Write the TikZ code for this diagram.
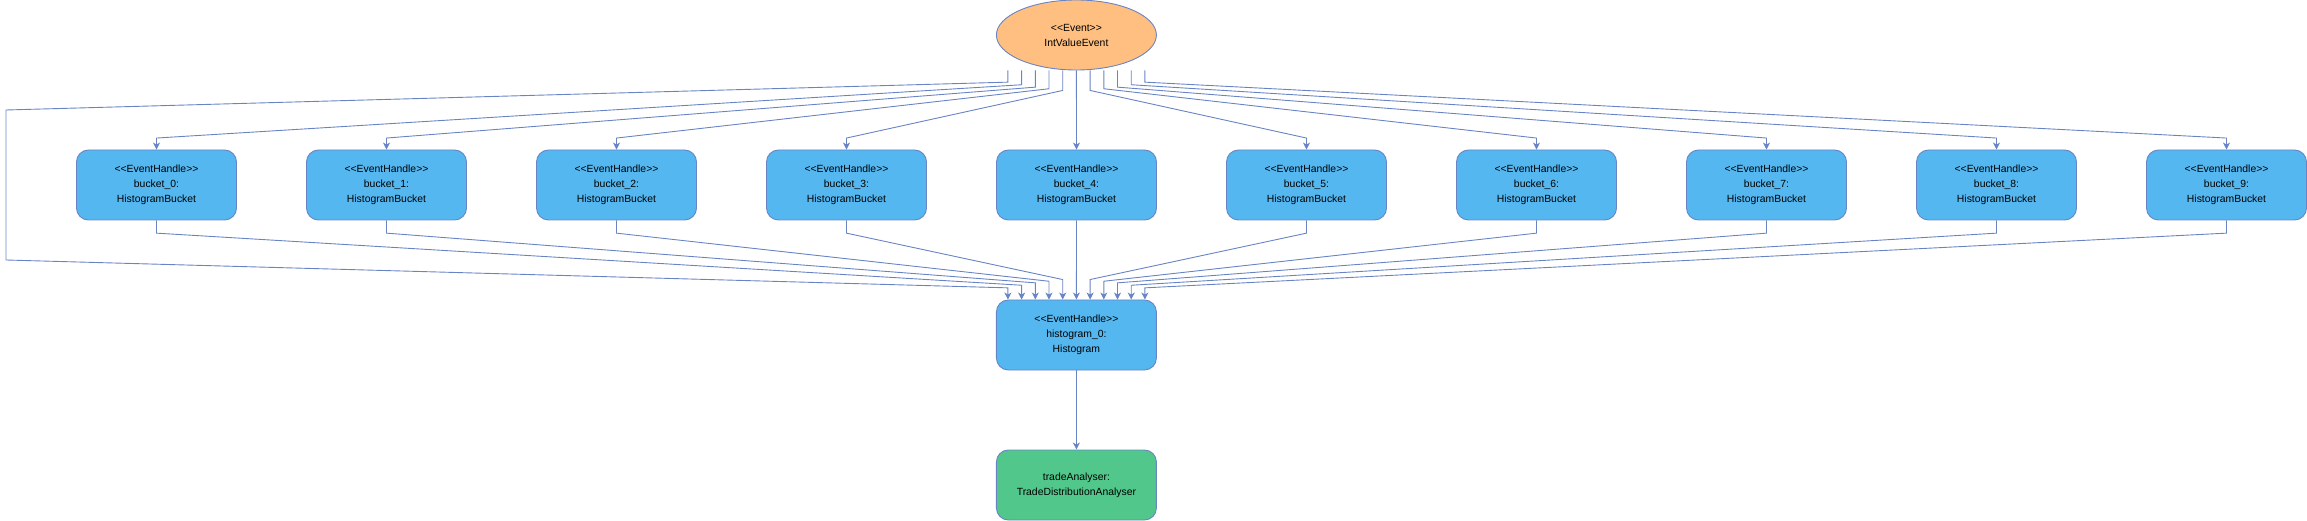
\documentclass[tikz,border=0pt]{standalone}
\usepackage{fontspec}
\setmainfont{Liberation Sans}
\usetikzlibrary{shapes.geometric,arrows.meta,calc}
\definecolor{edgec}{RGB}{104,132,196}
\definecolor{orangef}{RGB}{255,191,128}
\definecolor{bluef}{RGB}{85,183,240}
\definecolor{greenf}{RGB}{82,199,139}
\tikzset{
  x=1pt,y=-1pt,
  basenode/.style={draw=edgec,line width=0.9pt,minimum width=160pt,minimum height=70pt,inner sep=0pt,
    align=center,font=\fontsize{10.4}{15}\selectfont},
  evnode/.style={basenode,ellipse,fill=orangef},
  handlebox/.style={basenode,rounded corners=12pt,fill=bluef},
  analyserbox/.style={basenode,rounded corners=12pt,fill=greenf},
  conn/.style={draw=edgec,line width=0.9pt,-{Stealth[length=7pt,width=7pt,inset=2pt]}},
}
\begin{document}
\begin{tikzpicture}
\useasboundingbox (0,0) rectangle (2307,521);
\node[evnode] (ev) at (1076.4,35) {<{}<Event>{}>\\IntValueEvent};
\foreach \i in {0,...,9}{
  \node[handlebox] (b\i) at ({156.5+230*\i},185) {<{}<EventHandle>{}>\\bucket\_\i:\\HistogramBucket};
}
\node[handlebox] (hist) at (1076.4,335) {<{}<EventHandle>{}>\\histogram\_0:\\Histogram};
\node[analyserbox] (trade) at (1076.4,485) {tradeAnalyser:\\TradeDistributionAnalyser};
% straight connectors
\draw[conn] (ev.south) -- (b4.north);
\draw[conn] (b4.south) -- (hist.north);
\draw[conn] (hist.south) -- (trade.north);
% bucket connectors
\foreach \i/\k/\d in {0/-4/14.3,1/-3/16.7,2/-2/18.3,3/-1/20,5/1/20,6/2/18.3,7/3/16.7,8/4/14.3,9/5/11.7}{
  \draw[conn] ($(ev.south)+(13.7*\k,0)$) -- ++(0,\d) -- ($(b\i.north)+(0,-11.5)$) -- (b\i.north);
  \draw[conn] (b\i.south) -- ++(0,12.7) -- ($(hist.north)+(13.7*\k,-\d)$) -- ($(hist.north)+(13.7*\k,0)$);
}
% direct event -> histogram connector round the left
\coordinate (fl1) at (6,110);
\coordinate (fl2) at (6,260);
\draw[conn] ($(ev.south)+(-68.5,0)$) -- ++(0,11.7) -- (fl1) -- (fl2) -- ($(hist.north)+(-68.5,-11.7)$) -- ($(hist.north)+(-68.5,0)$);
\end{tikzpicture}
\end{document}
